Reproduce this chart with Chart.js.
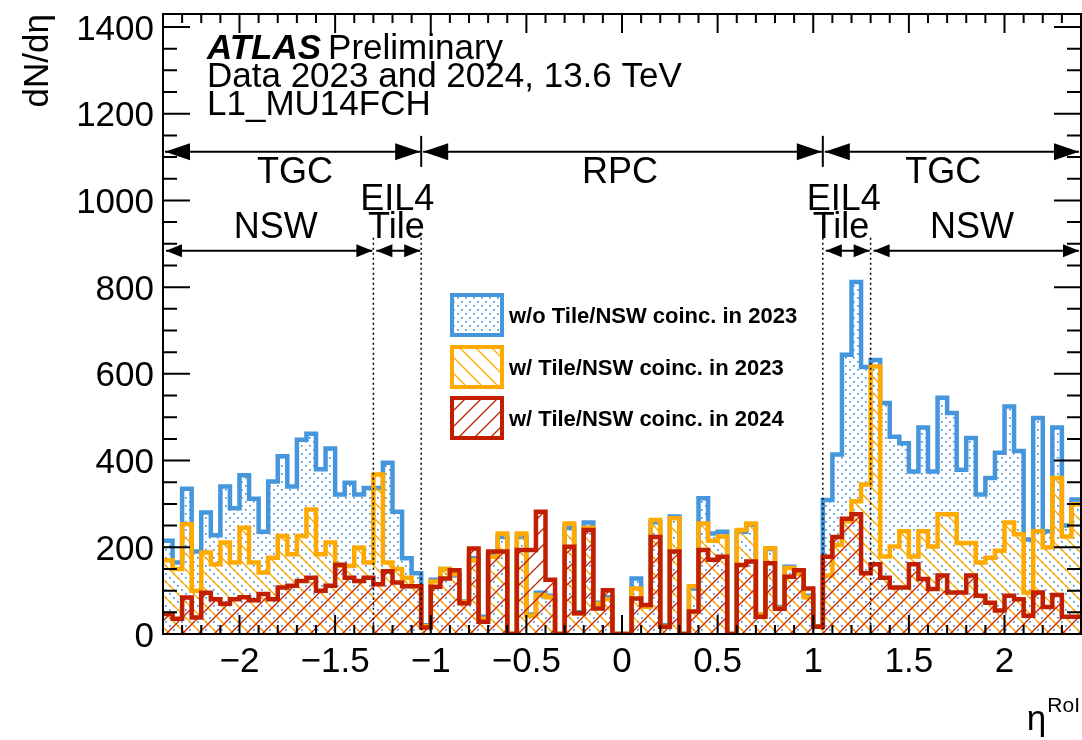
<!DOCTYPE html>
<html>
<head>
<meta charset="utf-8">
<script src="https://cdn.jsdelivr.net/npm/chart.js@4.4.0/dist/chart.umd.min.js"></script>
<style>
  html, body { margin: 0; padding: 0; background: #fff; }
  canvas { display: block; }
</style>
</head>
<body>
<canvas id="graficoEta" width="1082" height="740"></canvas>
<script>
// Binning del histograma (eta RoI)
const etaMin = -2.4, etaMax = 2.4, anchoBin = 0.05;

// Valores por bin, de eta = -2.4 a 2.4
const sinCoinc2023 = [
  215, 165, 335, 190, 280, 228, 340, 290, 366, 312, 236, 352, 410, 340, 448, 462,
  380, 428, 322, 349, 322, 337, 337, 395, 282, 175, 140, 20, 125, 150, 135, 75,
  175, 40, 182, 224, 0, 224, 45, 95, 88, 0, 245, 50, 257, 72, 85, 0,
  0, 128, 64, 258, 20, 271, 0, 105, 313, 232, 236, 0, 236, 252, 45, 196,
  62, 155, 145, 88, 18, 309, 414, 644, 812, 616, 632, 533, 455, 440, 375, 476,
  375, 545, 510, 379, 452, 322, 360, 418, 525, 422, 218, 498, 237, 476, 250, 310
];
const coinc2023 = [
  170, 150, 253, 100, 188, 161, 211, 165, 245, 165, 142, 176, 226, 184, 226, 287,
  184, 211, 157, 157, 199, 165, 368, 165, 150, 130, 110, 18, 121, 150, 138, 74,
  170, 35, 178, 232, 0, 232, 42, 90, 85, 0, 255, 48, 245, 70, 80, 0,
  0, 105, 63, 263, 17, 267, 0, 110, 255, 215, 225, 0, 240, 255, 45, 198,
  60, 152, 140, 85, 17, 135, 205, 260, 306, 345, 617, 179, 202, 237, 179, 237,
  202, 276, 276, 210, 210, 165, 176, 192, 257, 230, 96, 237, 200, 360, 225, 299
];
const coinc2024 = [
  46, 35, 84, 38, 95, 80, 70, 80, 85, 78, 92, 80, 107, 111, 122, 130,
  100, 111, 160, 130, 122, 130, 115, 145, 119, 110, 110, 15, 109, 128, 147, 71,
  197, 28, 190, 190, 0, 194, 194, 282, 125, 0, 201, 48, 240, 59, 101, 0,
  0, 82, 67, 224, 17, 190, 0, 52, 194, 171, 178, 0, 159, 167, 40, 163,
  58, 132, 147, 105, 17, 178, 224, 266, 276, 140, 161, 130, 107, 107, 161, 127,
  104, 135, 96, 96, 135, 88, 72, 54, 88, 80, 42, 96, 62, 90, 40, 40
];

const nombresSeries = ['w/o Tile/NSW coinc. in 2023', 'w/ Tile/NSW coinc. in 2023', 'w/ Tile/NSW coinc. in 2024'];
const ticksX = [-2, -1.5, -1, -0.5, 0, 0.5, 1, 1.5, 2];
const etiquetasX = ['\u22122', '\u22121.5', '\u22121', '\u22120.5', '0', '0.5', '1', '1.5', '2'];
const ticksY = [0, 200, 400, 600, 800, 1000, 1200, 1400];
const etiquetasY = ['0', '200', '400', '600', '800', '1000', '1200', '1400'];
const yMax = 1430;

// Regiones de detectores (limites en eta)
const regionesArriba = [[-2.4, -1.05, 'TGC'], [-1.05, 1.05, 'RPC'], [1.05, 2.4, 'TGC']];
const regionesAbajo = [[-2.4, -1.3], [-1.3, -1.05], [1.05, 1.3], [1.3, 2.4]];
const lineasPunteadas = [-1.3, -1.05, 1.05, 1.3];

const azul = '#4596dc', naranja = '#ffaa00', rojo = '#c21f00';
const fuente = '"Liberation Sans", Arial, Helvetica, sans-serif';

const canvas = document.getElementById('graficoEta');
const ctx = canvas.getContext('2d');

// Patrones de relleno tipo ROOT
function patronPuntos(color) {
    const c = document.createElement('canvas');
    c.width = 8; c.height = 8;
    const g = c.getContext('2d');
    g.fillStyle = color;
    g.fillRect(1, 1, 1.7, 1.7);
    g.fillRect(5, 5, 1.7, 1.7);
    return ctx.createPattern(c, 'repeat');
}

function patronRayas(color, subiendo) {
    const s = 16;
    const c = document.createElement('canvas');
    c.width = s; c.height = s;
    const g = c.getContext('2d');
    g.strokeStyle = color;
    g.lineWidth = 1.3;
    g.beginPath();
    if (subiendo) {
        g.moveTo(-1, s + 1); g.lineTo(s + 1, -1);
        g.moveTo(-1, 1); g.lineTo(1, -1);
        g.moveTo(s - 1, s + 1); g.lineTo(s + 1, s - 1);
    } else {
        g.moveTo(-1, -1); g.lineTo(s + 1, s + 1);
        g.moveTo(-1, s - 1); g.lineTo(1, s + 1);
        g.moveTo(s - 1, -1); g.lineTo(s + 1, 1);
    }
    g.stroke();
    return ctx.createPattern(c, 'repeat');
}

const rellenos = [patronPuntos(azul), patronRayas(naranja, false), patronRayas(rojo, true)];
const colores = [azul, naranja, rojo];

// Puntos del histograma: borde inferior de cada bin + borde final
function puntosHisto(valores) {
    const pts = valores.map((v, i) => ({ x: etaMin + i * anchoBin, y: v }));
    pts.push({ x: etaMax, y: valores[valores.length - 1] });
    return pts;
}

function serie(i, valores) {
    return {
        label: nombresSeries[i],
        data: puntosHisto(valores),
        stepped: 'before',
        borderColor: colores[i],
        borderWidth: 4.5,
        borderJoinStyle: 'miter',
        backgroundColor: rellenos[i],
        fill: 'origin',
        pointRadius: 0,
        order: 3 - i
    };
}

function flecha(c, x1, x2, yp, largo, medio) {
    c.beginPath();
    c.moveTo(x1, yp); c.lineTo(x2, yp);
    c.stroke();
    c.beginPath();
    c.moveTo(x1, yp); c.lineTo(x1 + largo, yp - medio); c.lineTo(x1 + largo, yp + medio); c.closePath();
    c.moveTo(x2, yp); c.lineTo(x2 - largo, yp - medio); c.lineTo(x2 - largo, yp + medio); c.closePath();
    c.fill();
}

// Ejes, textos, flechas y leyenda estilo ATLAS
const decoracion = {
    id: 'decoracion',
    afterDraw(chart) {
        const c = chart.ctx;
        const a = chart.chartArea;
        const x = chart.scales.x, y = chart.scales.y;
        c.save();
        c.fillStyle = '#000';
        c.strokeStyle = '#000';

        // lineas punteadas de las regiones
        c.lineWidth = 1.5;
        c.setLineDash([2, 3]);
        lineasPunteadas.forEach(e => {
            const px = x.getPixelForValue(e);
            c.beginPath();
            c.moveTo(px, y.getPixelForValue(914));
            c.lineTo(px, a.bottom);
            c.stroke();
        });
        c.setLineDash([]);

        // flechas
        c.lineWidth = 2;
        const yArriba = y.getPixelForValue(1112), yAbajo = y.getPixelForValue(884);
        regionesArriba.forEach(r => flecha(c, x.getPixelForValue(r[0]) + 2, x.getPixelForValue(r[1]) - (r[1] === 2.4 ? 2 : 1), yArriba, 25, 8.5));
        [-1.05, 1.05].forEach(e => {
            const px = x.getPixelForValue(e);
            c.beginPath(); c.moveTo(px, yArriba - 16); c.lineTo(px, yArriba + 15); c.stroke();
        });
        regionesAbajo.forEach(r => flecha(c, x.getPixelForValue(r[0]) + 3, x.getPixelForValue(r[1]) - (r[1] === 2.4 ? 2 : 1), yAbajo, 16, 6.5));

        c.font = '36px ' + fuente;
        c.textAlign = 'center';
        c.textBaseline = 'alphabetic';
        c.fillText('TGC', x.getPixelForValue(-1.71), 183);
        c.fillText('RPC', x.getPixelForValue(-0.01), 183);
        c.fillText('TGC', x.getPixelForValue(1.68), 183);
        c.fillText('EIL4', x.getPixelForValue(-1.175), 210);
        c.fillText('Tile', x.getPixelForValue(-1.18), 238);
        c.fillText('NSW', x.getPixelForValue(-1.81), 238);
        c.fillText('EIL4', x.getPixelForValue(1.16), 210);
        c.fillText('Tile', x.getPixelForValue(1.145), 238);
        c.fillText('NSW', x.getPixelForValue(1.83), 238);

        // marco y ticks
        c.lineWidth = 2;
        c.strokeRect(a.left, a.top, a.right - a.left, a.bottom - a.top);
        c.beginPath();
        for (let k = -24; k <= 24; k++) {
            const px = x.getPixelForValue(k / 10);
            const l = (k % 5 === 0) ? 19 : 9;
            c.moveTo(px, a.bottom); c.lineTo(px, a.bottom - l);
            c.moveTo(px, a.top); c.lineTo(px, a.top + l);
        }
        for (let v = 0; v <= yMax; v += 50) {
            const py = y.getPixelForValue(v);
            const l = (v % 200 === 0) ? 27 : 14;
            c.moveTo(a.left, py); c.lineTo(a.left + l, py);
            c.moveTo(a.right, py); c.lineTo(a.right - l, py);
        }
        c.stroke();

        // etiquetas de los ejes
        c.font = '35px ' + fuente;
        c.textAlign = 'center';
        ticksX.forEach((t, i) => c.fillText(etiquetasX[i], x.getPixelForValue(t), 672));
        c.textAlign = 'right';
        ticksY.forEach((t, i) => c.fillText(etiquetasY[i], a.left - 9, y.getPixelForValue(t) + 12.5));

        // titulos de ejes
        c.font = '21px ' + fuente;
        c.fillText('RoI', 1080, 712);
        const wRoI = c.measureText('RoI').width;
        c.font = '35px ' + fuente;
        c.fillText('\u03b7', 1080 - wRoI - 1, 730);
        c.save();
        c.translate(48, 14);
        c.rotate(-Math.PI / 2);
        c.textAlign = 'right';
        c.fillText('dN/d\u03b7', 0, 0);
        c.restore();

        // texto ATLAS
        c.textAlign = 'left';
        c.font = 'italic bold 35px ' + fuente;
        c.fillText('ATLAS', 207, 59);
        const wAtlas = c.measureText('ATLAS').width;
        c.font = '35px ' + fuente;
        c.fillText('Preliminary', 207 + wAtlas + 7, 59);
        c.fillText('Data 2023 and 2024, 13.6 TeV', 207, 87);
        c.fillText('L1_MU14FCH', 207, 115);

        // leyenda
        const cajasY = [295, 347, 398];
        c.font = 'bold 22px ' + fuente;
        cajasY.forEach((cy, i) => {
            c.fillStyle = rellenos[i];
            c.fillRect(452, cy, 50, 40);
            c.strokeStyle = colores[i];
            c.lineWidth = 4;
            c.strokeRect(452, cy, 50, 40);
            c.fillStyle = '#000';
            c.fillText(nombresSeries[i], 509, cy + 28);
        });
        c.restore();
    }
};

new Chart(ctx, {
    type: 'line',
    data: {
        datasets: [
            serie(0, sinCoinc2023),
            serie(1, coinc2023),
            serie(2, coinc2024)
        ]
    },
    options: {
        responsive: false,
        maintainAspectRatio: false,
        animation: false,
        devicePixelRatio: 1,
        layout: { padding: { left: 163, top: 14, right: 1, bottom: 106 } },
        plugins: { legend: { display: false }, tooltip: { enabled: false } },
        scales: {
            x: { type: 'linear', min: etaMin, max: etaMax, display: false },
            y: { type: 'linear', min: 0, max: yMax, display: false }
        }
    },
    plugins: [decoracion]
});
</script>
</body>
</html>
